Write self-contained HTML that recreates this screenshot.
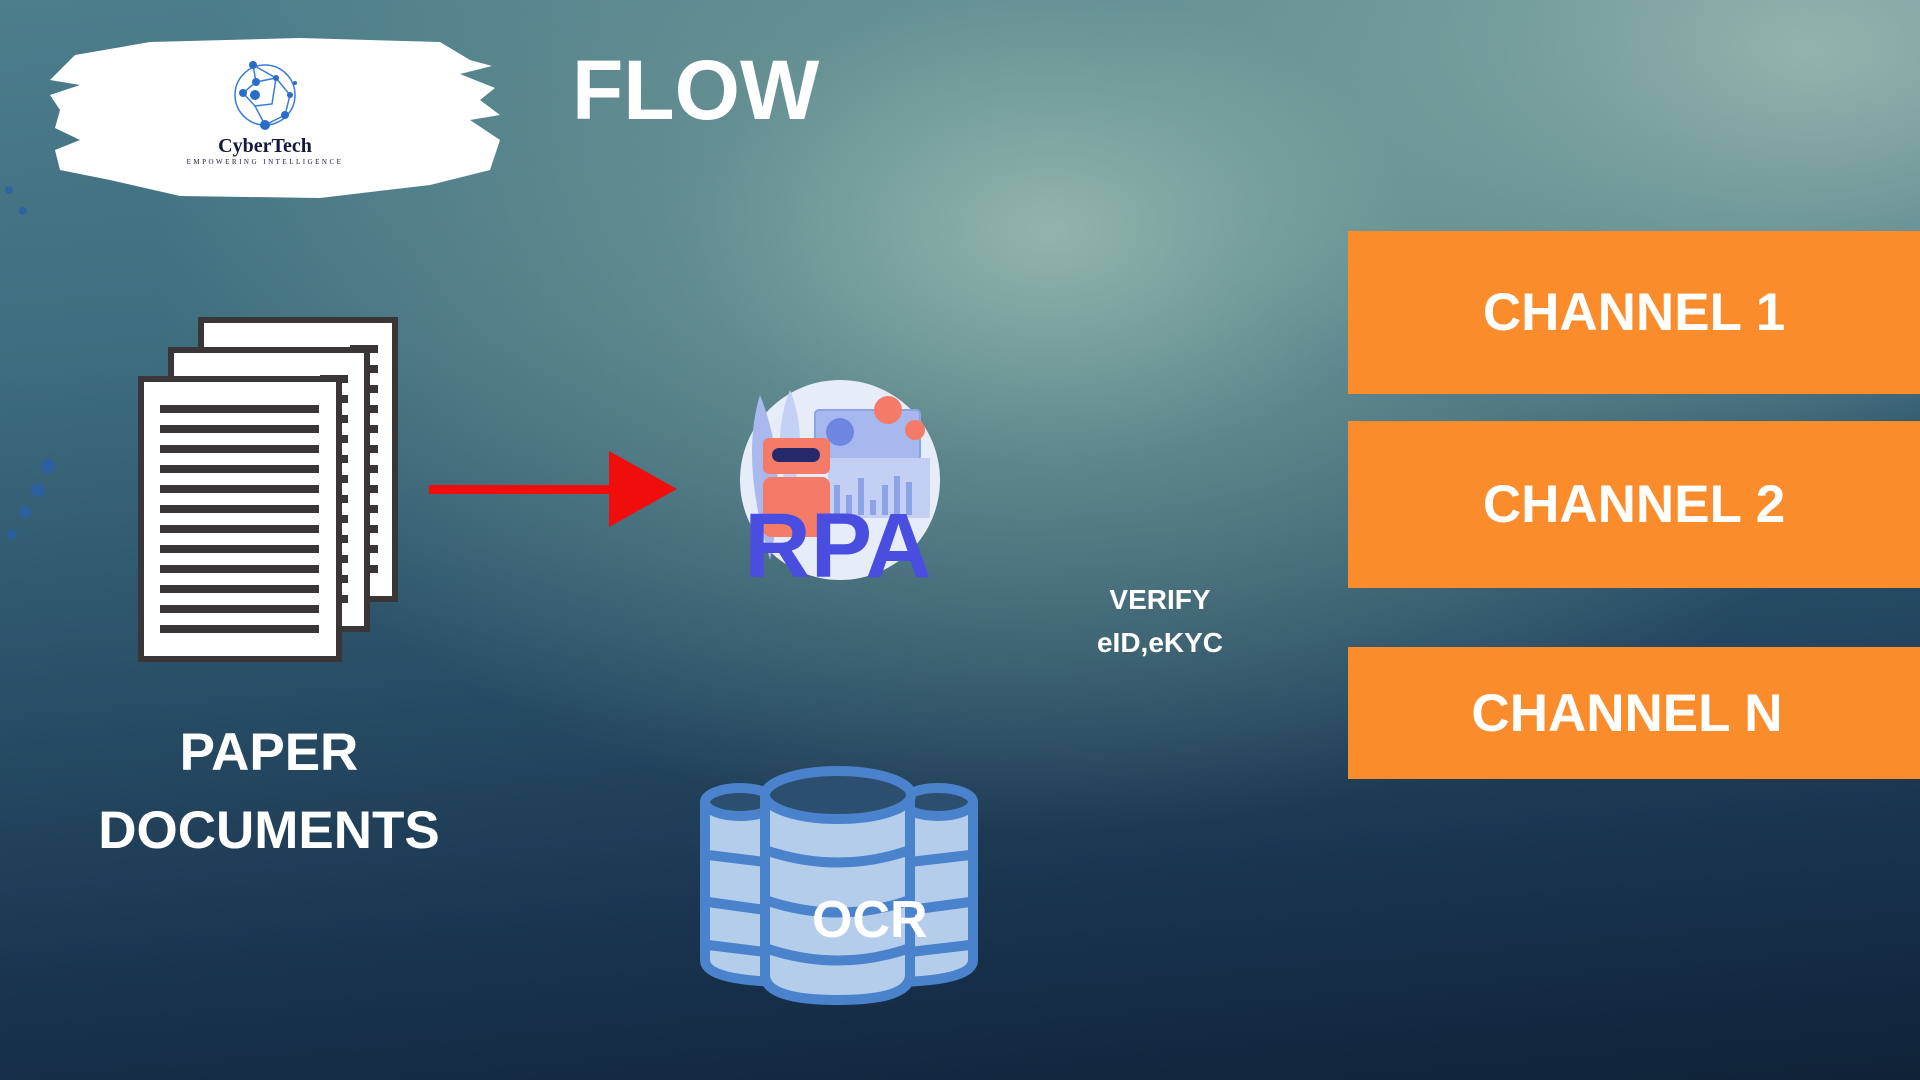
<!DOCTYPE html>
<html><head><meta charset="utf-8"><style>
html,body{margin:0;padding:0}
body{width:1920px;height:1080px;overflow:hidden;position:relative;font-family:"Liberation Sans",sans-serif;
background:
radial-gradient(ellipse 900px 600px at 1050px 230px, rgba(150,185,175,0.95) 0%, rgba(120,160,155,0.6) 40%, rgba(80,120,130,0) 100%),
radial-gradient(ellipse 700px 400px at 1800px 50px, rgba(160,190,180,0.9) 0%, rgba(160,190,180,0) 100%),
linear-gradient(175deg,#4d7e8c 0%,#3d6c7e 30%,#2a5068 55%,#1a3550 78%,#0f2238 100%);}
.t{position:absolute;color:#fff;font-weight:bold;white-space:nowrap}
.ch{position:absolute;left:1348px;width:572px;background:#fb8c2b;color:#fff;font-weight:bold;font-size:53px;display:flex;align-items:center;justify-content:center}
</style></head><body>
<svg width="1920" height="1080" style="position:absolute;left:0;top:0">
<path d="M75 55 L150 42 L300 38 L440 42 L470 60 L492 66 L460 74 L495 88 L480 100 L500 115 L470 120 L500 140 L490 170 L430 185 L320 198 L180 196 L110 180 L60 170 L55 150 L80 140 L55 128 L60 110 L50 95 L80 85 L50 80 Z" fill="#fff"/>
<g fill="none" stroke="#3a7bd5" stroke-width="1.5">
<circle cx="265" cy="95" r="30"/>
<path d="M253 65 L256 82 L243 93 L255 106 L265 125 L285 115 L290 95 L276 78 Z M256 82 L276 78 L272 104 L255 106"/>
</g>
<g fill="#2a6dc8"><circle cx="253" cy="65" r="4"/><circle cx="256" cy="82" r="4"/><circle cx="243" cy="93" r="4"/><circle cx="255" cy="95" r="5"/><circle cx="265" cy="125" r="5"/><circle cx="285" cy="115" r="4"/><circle cx="276" cy="78" r="3"/><circle cx="290" cy="95" r="3"/><circle cx="295" cy="83" r="2"/></g>
<text x="265" y="152" text-anchor="middle" font-family="Liberation Serif,serif" font-weight="bold" font-size="20" fill="#14183a">CyberTech</text>
<text x="265" y="164" text-anchor="middle" font-family="Liberation Serif,serif" font-size="7" letter-spacing="2.5" fill="#14183a">EMPOWERING INTELLIGENCE</text>
<g fill="#2a5fa8" opacity="0.8"><circle cx="48" cy="466" r="7"/><circle cx="38" cy="490" r="7"/><circle cx="25" cy="512" r="6"/><circle cx="12" cy="535" r="5"/><circle cx="9" cy="190" r="4"/><circle cx="23" cy="211" r="4"/></g>
<rect x="201" y="320" width="194" height="279" fill="#fff" stroke="#3a3536" stroke-width="6"/>
<g fill="#3a3536"><rect x="350" y="345" width="28" height="8"/><rect x="350" y="365" width="28" height="8"/><rect x="350" y="385" width="28" height="8"/><rect x="350" y="405" width="28" height="8"/><rect x="350" y="425" width="28" height="8"/><rect x="350" y="445" width="28" height="8"/><rect x="350" y="465" width="28" height="8"/><rect x="350" y="485" width="28" height="8"/><rect x="350" y="505" width="28" height="8"/><rect x="350" y="525" width="28" height="8"/><rect x="350" y="545" width="28" height="8"/><rect x="350" y="565" width="28" height="8"/></g>
<rect x="171" y="350" width="196" height="279" fill="#fff" stroke="#3a3536" stroke-width="6"/>
<g fill="#3a3536"><rect x="320" y="375" width="28" height="8"/><rect x="320" y="395" width="28" height="8"/><rect x="320" y="415" width="28" height="8"/><rect x="320" y="435" width="28" height="8"/><rect x="320" y="455" width="28" height="8"/><rect x="320" y="475" width="28" height="8"/><rect x="320" y="495" width="28" height="8"/><rect x="320" y="515" width="28" height="8"/><rect x="320" y="535" width="28" height="8"/><rect x="320" y="555" width="28" height="8"/><rect x="320" y="575" width="28" height="8"/><rect x="320" y="595" width="28" height="8"/></g>
<rect x="141" y="379" width="198" height="280" fill="#fff" stroke="#3a3536" stroke-width="6"/>
<g fill="#3a3536"><rect x="160" y="405" width="159" height="8"/><rect x="160" y="425" width="159" height="8"/><rect x="160" y="445" width="159" height="8"/><rect x="160" y="465" width="159" height="8"/><rect x="160" y="485" width="159" height="8"/><rect x="160" y="505" width="159" height="8"/><rect x="160" y="525" width="159" height="8"/><rect x="160" y="545" width="159" height="8"/><rect x="160" y="565" width="159" height="8"/><rect x="160" y="585" width="159" height="8"/><rect x="160" y="605" width="159" height="8"/><rect x="160" y="625" width="159" height="8"/></g>
<rect x="429" y="485" width="185" height="9" fill="#f20d0d"/>
<polygon points="609,451 677,489 609,527" fill="#f20d0d"/>
<circle cx="840" cy="480" r="100" fill="#e6ecf8"/>
<path d="M760 395 Q740 460 770 560 Q790 470 760 395Z" fill="#a9b9ee"/>
<path d="M790 390 Q770 440 790 500 Q810 440 790 390Z" fill="#c4d0f4"/>
<rect x="815" y="410" width="105" height="50" rx="4" fill="#a6b8ee" stroke="#8ea3e6" stroke-width="2"/>
<circle cx="840" cy="432" r="14" fill="#6f86e0"/>
<rect x="828" y="458" width="102" height="60" fill="#c3cff3"/>
<g fill="#8ea3e6"><rect x="834" y="485" width="6" height="30"/><rect x="846" y="495" width="6" height="20"/><rect x="858" y="478" width="6" height="37"/><rect x="870" y="500" width="6" height="15"/><rect x="882" y="485" width="6" height="30"/><rect x="894" y="476" width="6" height="39"/><rect x="906" y="482" width="6" height="33"/></g>
<circle cx="888" cy="410" r="14" fill="#f47b68"/><circle cx="915" cy="430" r="10" fill="#f47b68"/>
<rect x="763" y="438" width="67" height="36" rx="6" fill="#f47b68"/>
<rect x="772" y="448" width="48" height="14" rx="7" fill="#262a6a"/>
<rect x="763" y="477" width="67" height="60" rx="8" fill="#f47b68"/>
<text x="838" y="577" text-anchor="middle" font-family="Liberation Sans,sans-serif" font-weight="bold" font-size="92" fill="#4a4ee0">RPA</text>
<g stroke="#4a82cc" stroke-width="10" fill="#b4cdea">
<path d="M705 802 L705 960 Q705 980 780 982 L780 795 Q705 790 705 802Z"/>
<path d="M973 802 L973 960 Q973 980 900 982 L900 795 Q973 790 973 802Z"/>
<ellipse cx="740" cy="802" rx="35" ry="14" fill="#2c4f70"/>
<ellipse cx="938" cy="802" rx="35" ry="14" fill="#2c4f70"/>
<path d="M765 795 L765 975 Q765 1000 838 1000 Q910 1000 910 975 L910 795"/>
<ellipse cx="838" cy="795" rx="73" ry="24" fill="#2c4f70"/>
<path d="M765 850 Q838 875 910 850 M765 900 Q838 925 910 900 M765 948 Q838 973 910 948 M708 855 L765 862 M708 902 L765 910 M708 945 L765 952 M970 855 L910 862 M970 902 L910 910 M970 945 L910 952" fill="none"/>
</g>
</svg>
<div class="t" style="left:572px;top:42px;font-size:84px">FLOW</div>
<div class="t" style="left:69px;width:400px;top:714px;font-size:53px;text-align:center;line-height:78px">PAPER<br>DOCUMENTS</div>
<div class="t" style="left:1060px;width:200px;top:578px;font-size:28px;text-align:center;line-height:43px">VERIFY<br>eID,eKYC</div>
<div class="t" style="left:812px;top:890px;font-size:52px">OCR</div>
<div class="ch" style="top:231px;height:163px">CHANNEL 1</div>
<div class="ch" style="top:421px;height:167px">CHANNEL 2</div>
<div class="ch" style="top:647px;height:132px;padding-right:14px;box-sizing:border-box">CHANNEL N</div>
</body></html>
